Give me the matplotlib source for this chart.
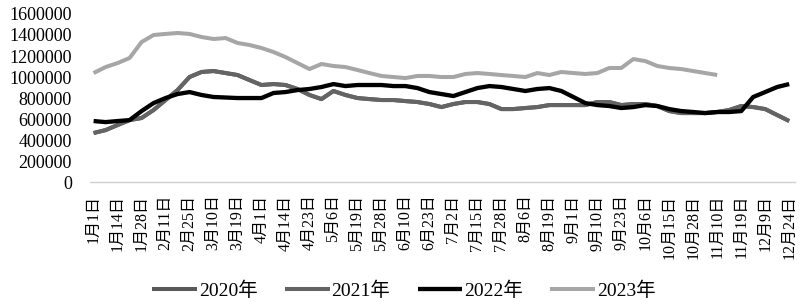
import matplotlib.pyplot as plt
import numpy as np

# x tick labels (one every two data points)
date_labels = ["1月1日", "1月14日", "1月28日", "2月11日", "2月25日", "3月10日", "3月19日",
               "4月1日", "4月14日", "4月23日", "5月6日", "5月19日", "5月28日", "6月10日",
               "6月23日", "7月2日", "7月15日", "7月28日", "8月6日", "8月19日", "9月1日",
               "9月10日", "9月23日", "10月6日", "10月15日", "10月28日", "11月10日",
               "11月19日", "12月9日", "12月24日"]

# values
v2021 = [467000, 495000, 543000, 590000, 610000, 686000, 781000, 876000, 1000000, 1048000,
         1057000, 1038000, 1019000, 971000, 924000, 933000, 924000, 886000, 829000, 790000,
         867000, 829000, 800000, 790000, 781000, 781000, 771000, 762000, 743000, 714000,
         743000, 762000, 762000, 743000, 695000, 695000, 705000, 714000, 733000, 733000,
         733000, 733000, 762000, 762000, 733000, 743000, 743000, 724000, 676000, 657000,
         657000, 657000, 667000, 686000, 724000, 714000, 695000, 638000, 581000]
# 2020 line is hidden under the 2021 line in the source chart
v2020 = list(v2021)
v2022 = [581000, 571000, 581000, 590000, 676000, 752000, 800000, 838000, 857000, 829000,
         810000, 805000, 800000, 800000, 800000, 848000, 857000, 876000, 886000, 905000,
         933000, 914000, 924000, 924000, 924000, 914000, 914000, 895000, 857000, 838000,
         819000, 857000, 895000, 914000, 905000, 886000, 867000, 886000, 895000, 867000,
         810000, 752000, 733000, 724000, 705000, 714000, 733000, 724000, 695000, 676000,
         667000, 657000, 667000, 667000, 676000, 810000, 857000, 905000, 933000]
v2023 = [1038000, 1095000, 1133000, 1181000, 1333000, 1400000, 1410000, 1419000, 1410000,
         1381000, 1362000, 1371000, 1324000, 1305000, 1276000, 1238000, 1190000, 1133000,
         1076000, 1124000, 1105000, 1095000, 1067000, 1038000, 1010000, 1000000, 990000,
         1010000, 1010000, 1000000, 1000000, 1029000, 1038000, 1029000, 1019000, 1010000,
         1000000, 1038000, 1019000, 1048000, 1038000, 1029000, 1038000, 1086000, 1086000,
         1171000, 1152000, 1105000, 1086000, 1076000, 1057000, 1038000, 1019000]

serif_cjk = ["Liberation Serif", "Noto Sans CJK SC"]

fig = plt.figure(figsize=(8, 3.04), dpi=100)
ax = fig.add_axes([0.1125, 0.401, 0.8815, 0.553])

series = [("2020年", v2020, "#595959", 2.9),
          ("2021年", v2021, "#646464", 2.9),
          ("2022年", v2022, "#000000", 3.1),
          ("2023年", v2023, "#a6a6a6", 2.9)]
for name, vals, col, lw in series:
    x = np.arange(len(vals)) / 2
    ax.plot(x, vals, color=col, linewidth=lw, label=name, solid_capstyle="butt")

ax.set_ylim(0, 1600000)
ax.set_yticks(np.arange(0, 1600001, 200000))
ax.set_yticklabels([str(v) for v in range(0, 1600001, 200000)],
                   fontfamily="Liberation Serif", fontsize=13)
ax.set_xlim(-0.15, 29.25)
ax.set_xticks(range(len(date_labels)))
ax.set_xticklabels(date_labels, rotation=90, fontfamily=serif_cjk, fontsize=11.5)
ax.tick_params(axis="y", length=0, pad=13)
ax.tick_params(axis="x", length=0, pad=9)

for s in ["top", "right", "left"]:
    ax.spines[s].set_visible(False)
ax.spines["bottom"].set_color("#d0d0d0")
ax.spines["bottom"].set_linewidth(1)

fig.legend(loc="center", bbox_to_anchor=(0.505, 0.045), ncol=4, frameon=False,
           prop={"family": serif_cjk, "size": 14}, handlelength=2.3,
           handletextpad=0.1, columnspacing=1.4)

plt.savefig("out.png", dpi=100)
